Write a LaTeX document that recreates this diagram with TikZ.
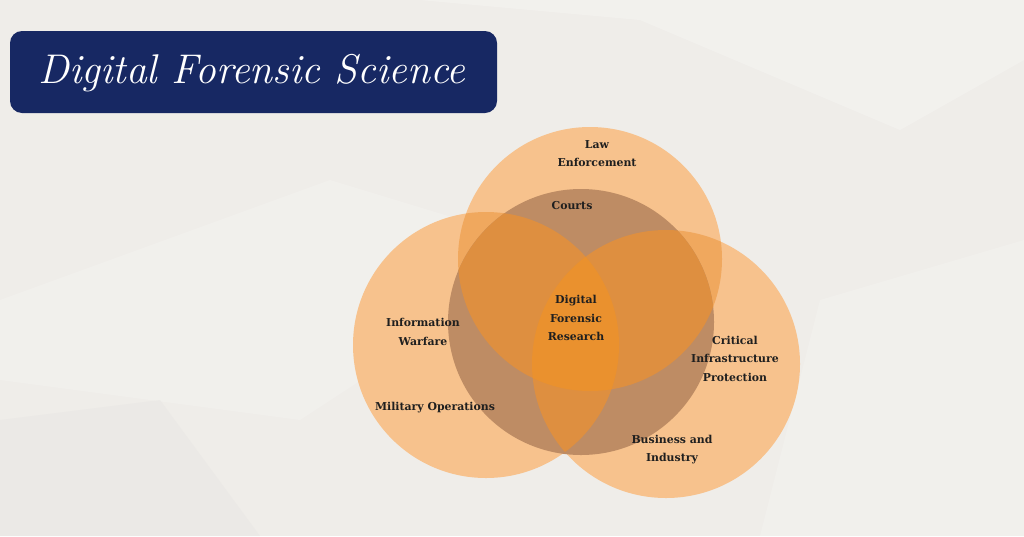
\documentclass[tikz,border=0pt]{standalone}
\usepackage{fontspec}
\newfontfamily\labelfont{DejaVu Serif}
\begin{document}
\begin{tikzpicture}[x=1pt,y=-1pt,
  lbl/.style={font=\labelfont\bfseries\fontsize{10.9}{18.5}\selectfont, text=black!88, align=center, inner sep=0pt},
  titletext/.style={font=\itshape\fontsize{41.5}{48}\selectfont, text=white, inner sep=0pt}]
\definecolor{bg}{HTML}{EFEDE9}
\definecolor{bglight}{HTML}{F4F3F0}
\definecolor{bgdark}{HTML}{E9E7E4}
\definecolor{navy}{HTML}{172863}
\definecolor{cone}{HTML}{F7C28D}
\definecolor{ctwo}{HTML}{F0A85E}
\definecolor{cbrown}{HTML}{BE8C64}
\definecolor{cfour}{HTML}{DE8F40}
\definecolor{cfive}{HTML}{EA912E}
\useasboundingbox (0,0) rectangle (1024,536);
% background
\fill[bg] (0,0) rectangle (1024,536);
\fill[bglight, opacity=0.7] (420,0) -- (1024,0) -- (1024,60) -- (900,130) -- (640,20) -- cycle;
\fill[bglight, opacity=0.5] (0,300) -- (330,180) -- (560,250) -- (300,420) -- (0,380) -- cycle;
\fill[bgdark, opacity=0.6] (0,420) -- (160,400) -- (260,536) -- (0,536) -- cycle;
\fill[bglight, opacity=0.5] (820,300) -- (1024,240) -- (1024,536) -- (760,536) -- cycle;
% single circles
\fill[cone] (590,259) circle[radius=132pt];
\fill[cone] (486,345) circle[radius=133pt];
\fill[cone] (666,364) circle[radius=134pt];
% pairwise overlaps
\begin{scope}
  \clip (590,259) circle[radius=132pt];
  \fill[ctwo] (486,345) circle[radius=133pt];
  \fill[ctwo] (666,364) circle[radius=134pt];
\end{scope}
\begin{scope}
  \clip (486,345) circle[radius=133pt];
  \fill[ctwo] (666,364) circle[radius=134pt];
\end{scope}
% dark central circle
\fill[cbrown] (581,322) circle[radius=133pt];
\begin{scope}
  \clip (581,322) circle[radius=133pt];
  \begin{scope}
    \clip (590,259) circle[radius=132pt];
    \fill[cfour] (486,345) circle[radius=133pt];
    \fill[cfour] (666,364) circle[radius=134pt];
  \end{scope}
  \begin{scope}
    \clip (486,345) circle[radius=133pt];
    \fill[cfour] (666,364) circle[radius=134pt];
  \end{scope}
  \begin{scope}
    \clip (590,259) circle[radius=132pt];
    \clip (486,345) circle[radius=133pt];
    \fill[cfive] (666,364) circle[radius=134pt];
  \end{scope}
\end{scope}
% title
\fill[navy, rounded corners=12pt] (10,31) rectangle (497,113);
\node[titletext] (title) at (252,73) {Digital Forensic Science};
% labels
\node[lbl] (law) at (597,153.5) {Law\\Enforcement};
\node[lbl] (courts) at (572,206) {Courts};
\node[lbl] (dfr) at (576,318) {Digital\\Forensic\\Research};
\node[lbl] (iw) at (423,332) {Information\\Warfare};
\node[lbl] (mil) at (435,408) {Military Operations};
\node[lbl] (cip) at (735,358.5) {Critical\\Infrastructure\\Protection};
\node[lbl] (bus) at (672,449.5) {Business and\\Industry};
\end{tikzpicture}
\end{document}
